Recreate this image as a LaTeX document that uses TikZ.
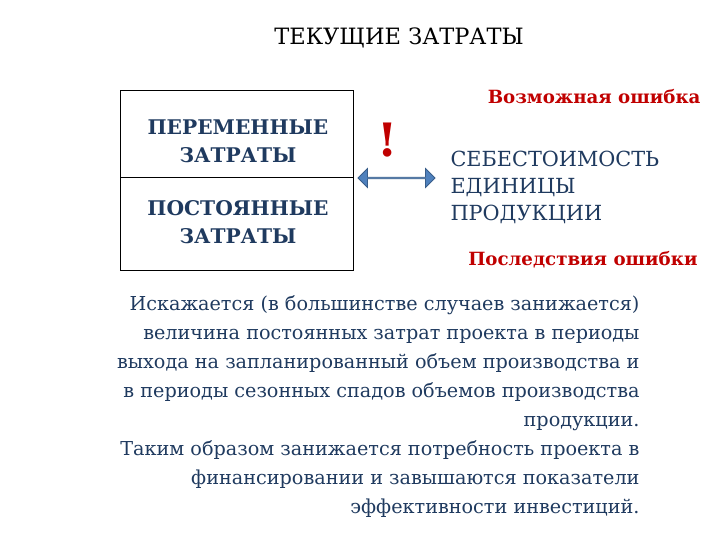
\documentclass[tikz,border=0pt]{standalone}
\usepackage{fontspec}
\setmainfont{DejaVu Serif}
\newfontfamily\serifrm{DejaVu Serif}
\usetikzlibrary{shapes.arrows}
\definecolor{dkblue}{HTML}{1F3A5F}
\definecolor{errred}{HTML}{C00000}
\definecolor{arrblue}{HTML}{4F81BD}
\definecolor{arredge}{HTML}{385D8A}
\tikzset{
  boxtext/.style={font=\serifrm\fontsize{20.2}{28}\selectfont\bfseries, text=dkblue, align=center},
  redlabel/.style={font=\serifrm\fontsize{18.2}{24}\selectfont\bfseries, text=errred},
  bodytext/.style={font=\serifrm\fontsize{19.2}{29}\selectfont, text=dkblue}
}
\begin{document}
\begin{tikzpicture}[x=1pt,y=-1pt]
\useasboundingbox (0,0) rectangle (720,540);
\node (title) at (399,38) {\serifrm\fontsize{22.5}{24}\selectfont ТЕКУЩИЕ ЗАТРАТЫ};
\draw[line width=0.8pt] (120,90) rectangle (353,270);
\draw[line width=0.8pt] (120,177) -- (353,177);
\node[boxtext] (var) at (238,141) {ПЕРЕМЕННЫЕ\\ЗАТРАТЫ};
\node[boxtext] (fix) at (238,222) {ПОСТОЯННЫЕ\\ЗАТРАТЫ};
\node[text=errred, font=\fontsize{46}{46}\selectfont\serifrm\bfseries] (excl) at (388,140) {!};
\node[double arrow, draw=arredge, fill=arrblue, line width=0.8pt, minimum width=19pt, double arrow head extend=5pt, double arrow head indent=0pt, minimum height=77pt, inner sep=0pt] (arr) at (396.5,178) {};
\node[redlabel, anchor=east] (err) at (704,97) {Возможная ошибка};
\node[font=\serifrm\fontsize{20.8}{27}\selectfont, text=dkblue, align=left, anchor=west] (cost) at (447,187) {СЕБЕСТОИМОСТЬ\\ЕДИНИЦЫ\\ПРОДУКЦИИ};
\node[redlabel, anchor=east] (cons) at (701,260) {Последствия ошибки};
\node[bodytext, align=right, anchor=north east] (body) at (643,292) {Искажается (в большинстве случаев занижается)\\величина постоянных затрат проекта в периоды\\выхода на запланированный объем производства и\\в периоды сезонных спадов объемов производства\\продукции.\\Таким образом занижается потребность проекта в\\финансировании и завышаются показатели\\эффективности инвестиций.};
\end{tikzpicture}
\end{document}
